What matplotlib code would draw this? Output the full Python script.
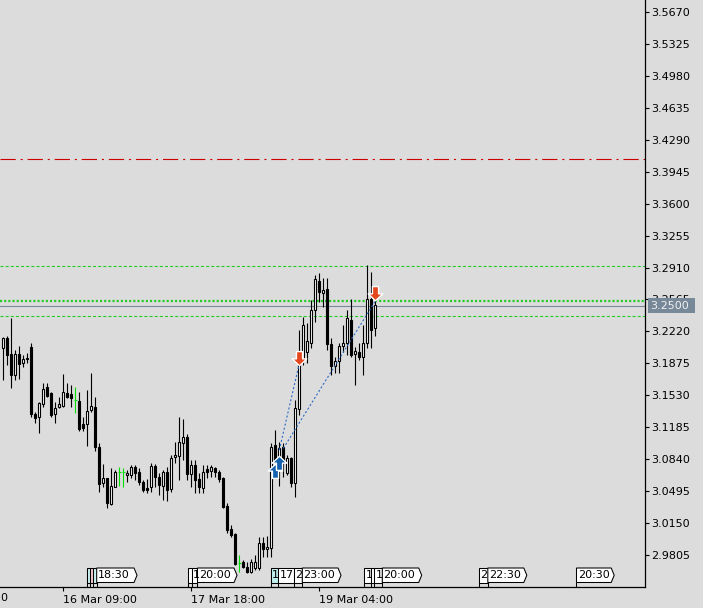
import matplotlib
matplotlib.use("Agg")
import matplotlib.pyplot as plt
import matplotlib.transforms as mtransforms
from matplotlib.path import Path
from matplotlib.patches import Polygon, Rectangle

plt.rcParams['font.family'] = ['DejaVu Sans']
plt.rcParams['lines.scale_dashes'] = False

# ---------------- data ----------------
opens = [3.2038, 3.2153, 3.1973, 3.1750, 3.1973, 3.1876, 3.1937, 3.2049, 3.1329, 3.1293,
         3.1437, 3.1624, 3.1559, 3.1329, 3.1401, 3.1419, 3.1552, 3.1541, 3.1480, 3.1469,
         3.1217, 3.1217, 3.1372, 3.1401, 3.0976, 3.0587, 3.0634, 3.0357, 3.0544, 3.0699,
         3.0699, 3.0670, 3.0670, 3.0760, 3.0706, 3.0591, 3.0526, 3.0537, 3.0767, 3.0652,
         3.0551, 3.0706, 3.0515, 3.0861, 3.0875, 3.1019, 3.1077, 3.0681, 3.0778, 3.0623,
         3.0526, 3.0735, 3.0710, 3.0742, 3.0706, 3.0634, 3.0335, 3.0083, 3.0033, 2.9716,
         2.9734, 2.9680, 2.9626, 2.9662, 2.9662, 2.9939, 2.9867, 2.9878, 3.0994, 3.0850,
         3.0976, 3.0695, 3.0850, 3.0580, 3.1379, 3.1912, 3.2002, 3.2099, 3.2452, 3.2769,
         3.2632, 3.2675, 3.2085, 3.1847, 3.1901, 3.2063, 3.2099, 3.2344, 3.1973, 3.2002,
         3.1948, 3.2092, 3.2567, 3.2254]
highs = [3.2164, 3.2171, 3.2362, 3.2020, 3.2063, 3.1966, 3.1984, 3.2099, 3.1354, 3.1462,
         3.1660, 3.1660, 3.1570, 3.1462, 3.1516, 3.1757, 3.1667, 3.1642, 3.1624, 3.1570,
         3.1300, 3.1588, 3.1768, 3.1516, 3.1012, 3.0789, 3.0634, 3.0742, 3.0724, 3.0753,
         3.0742, 3.0724, 3.0778, 3.0778, 3.0742, 3.0616, 3.0623, 3.0796, 3.0789, 3.0688,
         3.0724, 3.0753, 3.0886, 3.1030, 3.1293, 3.1271, 3.1113, 3.0832, 3.0832, 3.0688,
         3.0778, 3.0778, 3.0778, 3.0760, 3.0724, 3.0652, 3.0364, 3.0130, 3.0040, 2.9806,
         2.9752, 2.9734, 2.9759, 2.9806, 3.0004, 3.0004, 3.0011, 3.1012, 3.1156, 3.1030,
         3.1012, 3.0886, 3.0868, 3.1480, 3.2236, 3.2380, 3.2308, 3.2560, 3.2830, 3.2848,
         3.2794, 3.2794, 3.2146, 3.1948, 3.2092, 3.2290, 3.2452, 3.2567, 3.2056, 3.2092,
         3.2290, 3.2938, 3.2866, 3.2560]
lows = [3.1696, 3.1858, 3.1613, 3.1696, 3.1703, 3.1840, 3.1876, 3.1300, 3.1228, 3.1120,
        3.1408, 3.1516, 3.1300, 3.1228, 3.1390, 3.1408, 3.1498, 3.1408, 3.1343, 3.1149,
        3.1149, 3.0983, 3.1354, 3.0933, 3.0490, 3.0544, 3.0310, 3.0346, 3.0544, 3.0551,
        3.0537, 3.0598, 3.0634, 3.0616, 3.0562, 3.0490, 3.0472, 3.0490, 3.0544, 3.0454,
        3.0400, 3.0393, 3.0490, 3.0796, 3.0616, 3.0832, 3.0616, 3.0537, 3.0472, 3.0472,
        3.0472, 3.0634, 3.0652, 3.0652, 3.0598, 3.0310, 3.0040, 3.0004, 2.9698, 2.9626,
        2.9662, 2.9608, 2.9608, 2.9644, 2.9644, 2.9788, 2.9788, 2.9788, 3.0652, 3.0551,
        3.0652, 3.0670, 3.0544, 3.0436, 3.1318, 3.1858, 3.1876, 3.2038, 3.2326, 3.2542,
        3.2488, 3.2020, 3.1750, 3.1768, 3.1768, 3.2002, 3.1966, 3.1948, 3.1642, 3.1912,
        3.1750, 3.2038, 3.2038, 3.2171]
closes = [3.2146, 3.1966, 3.1750, 3.1973, 3.1869, 3.1923, 3.1923, 3.1329, 3.1282, 3.1444,
          3.1595, 3.1523, 3.1318, 3.1390, 3.1437, 3.1563, 3.1509, 3.1498, 3.1480, 3.1163,
          3.1174, 3.1361, 3.1419, 3.0976, 3.0573, 3.0634, 3.0364, 3.0551, 3.0699, 3.0699,
          3.0699, 3.0688, 3.0760, 3.0695, 3.0598, 3.0508, 3.0508, 3.0767, 3.0652, 3.0562,
          3.0706, 3.0508, 3.0850, 3.0886, 3.1030, 3.1077, 3.0681, 3.0778, 3.0616, 3.0537,
          3.0706, 3.0699, 3.0753, 3.0706, 3.0623, 3.0328, 3.0076, 3.0022, 2.9709, 2.9716,
          2.9680, 2.9626, 2.9734, 2.9734, 2.9939, 2.9867, 2.9896, 3.0969, 3.0832, 3.0958,
          3.0814, 3.0850, 3.0587, 3.1390, 3.1894, 3.2290, 3.2117, 3.2452, 3.2783, 3.2650,
          3.2668, 3.2081, 3.1847, 3.1901, 3.2063, 3.2099, 3.2362, 3.1966, 3.2009, 3.1948,
          3.2092, 3.2567, 3.2236, 3.2506]

# price levels
level_dashdot = 3.4083
level_green_upper = 3.2927
level_green_bold = 3.2554
level_bid = 3.2500
level_green_lower = 3.2390

# trades: (bar, price)
buy_arrows = [(68, 3.0716), (69, 3.0796)]
sell_arrows = [(74, 3.1936), (93, 3.2632)]
trade_lines = [((69, 3.0939), (74, 3.1876)), ((70, 3.0957), (93, 3.2549))]

# axis ticks
ytick_values = [2.9805, 3.0150, 3.0495, 3.0840, 3.1185, 3.1530, 3.1875, 3.2220, 3.2565,
                3.2910, 3.3255, 3.3600, 3.3945, 3.4290, 3.4635, 3.4980, 3.5325, 3.5670]
xtick_bars = [15, 47, 79]
xtick_labels = ['16 Mar 09:00', '17 Mar 18:00', '19 Mar 04:00']

# calendar events: (start bar, end bar, label, fill, arrow-shaped)
events = [
    (20.84, 21.67, '', '#c8eef0', False),
    (21.67, 22.49, '', '#f2c8cc', False),
    (22.49, 23.34, '', '#c8eef0', False),
    (23.34, 33.42, '18:30', 'white', True),
    (46.24, 47.09, '', 'white', False),
    (47.09, 48.54, '1', 'white', False),
    (48.54, 58.42, '20:00', 'white', True),
    (66.92, 68.74, '1', '#bff0f0', False),
    (68.74, 72.74, '17', 'white', False),
    (72.74, 74.74, '2', 'white', False),
    (74.74, 84.42, '23:00', 'white', True),
    (90.24, 91.92, '1', 'white', False),
    (91.92, 92.74, '', 'white', False),
    (92.74, 94.74, '1', 'white', False),
    (94.74, 104.59, '20:00', 'white', True),
    (118.87, 121.12, '2', 'white', False),
    (121.12, 130.87, '22:30', 'white', True),
    (143.29, 152.72, '20:30', 'white', True),
]

# ---------------- figure ----------------
BG = '#dcdcdc'
W, H = 703, 608
fig = plt.figure(figsize=(W / 100, H / 100), dpi=100, facecolor=BG)
ax = fig.add_axes([0, (H - 587) / H, 645 / W, 587 / H], facecolor=BG)

n = len(opens)
xs = list(range(n))
FS = 8

# candles
for i in xs:
    o, h, l, c = opens[i], highs[i], lows[i], closes[i]
    if abs(o - c) < 1e-9:
        ax.vlines(i, l, h, color='#00dd00', lw=0.8, zorder=3)
        ax.hlines(o, i - 0.45, i + 0.45, color='#00dd00', lw=0.8, zorder=3)
        continue
    ax.vlines(i, l, h, color='black', lw=0.8, zorder=2)
    bull = c > o
    ax.bar(i, abs(c - o), bottom=min(o, c), width=0.55,
           color='white' if bull else 'black', edgecolor='black',
           linewidth=0.8, zorder=3)

# horizontal levels
ax.axhline(level_dashdot, color='#cc0000', lw=0.8, ls=(0, (11, 3.5, 1.5, 3.5)), zorder=1)
ax.axhline(level_green_upper, color='#22cc22', lw=0.8, ls=(0, (2.2, 1.5)), zorder=1)
ax.axhline(level_green_bold, color='#22cc22', lw=1.6, ls=(0, (1.5, 1.5)), zorder=1)
ax.axhline(level_bid, color='#7a8898', lw=0.8, zorder=1)
ax.axhline(level_green_lower, color='#22cc22', lw=0.8, ls=(0, (2.2, 1.5)), zorder=1)

# trade lines
for (x0, y0), (x1, y1) in trade_lines:
    ax.plot([x0, x1], [y0, y1], color='#2a6ac4', lw=0.8, ls=(0, (1.5, 1.5)), zorder=4)

# arrow markers
up_verts = [(0, 1), (1, 0.05), (0.42, 0.05), (0.42, -0.95), (-0.42, -0.95),
            (-0.42, 0.05), (-1, 0.05), (0, 1)]
codes = [Path.MOVETO] + [Path.LINETO] * 6 + [Path.CLOSEPOLY]
up_arrow = Path(up_verts, codes)
down_arrow = Path([(x, -y) for x, y in up_verts], codes)
for bx, py in buy_arrows:
    ax.plot([bx], [py], marker=up_arrow, ms=10.5, mfc='#1462b0', mec='white',
            mew=1.0, ls='none', zorder=6)
for bx, py in sell_arrows:
    ax.plot([bx], [py], marker=down_arrow, ms=10.5, mfc='#e4461e', mec='white',
            mew=1.0, ls='none', zorder=6)

# limits
px_per_bar = 4.0
x_left = -3.33 / px_per_bar
x_right = x_left + 645 / px_per_bar
ax.set_xlim(x_left, x_right)
ax.set_ylim(3.5800 - 587 / 925.8, 3.5800)

# spines / ticks
for s in ['left', 'top']:
    ax.spines[s].set_visible(False)
for s in ['right', 'bottom']:
    ax.spines[s].set_color('black')
    ax.spines[s].set_linewidth(0.9)

ax.yaxis.tick_right()
ax.set_yticks(ytick_values)
ax.set_yticklabels([f'{v:.4f}' for v in ytick_values])
ax.tick_params(axis='y', direction='out', length=3.2, width=0.8, pad=1.2,
               labelsize=FS, colors='black')
ax.set_xticks(xtick_bars)
ax.set_xticklabels(xtick_labels)
ax.tick_params(axis='x', direction='out', length=3.0, width=0.8, pad=2.5,
               labelsize=FS, colors='black')
for lbl in ax.get_xticklabels():
    lbl.set_ha('left')

ax.text(0.0, -0.019, '0', transform=ax.transAxes, ha='left', va='center',
        fontsize=FS, color='black', clip_on=False)

# bid label box
bt = mtransforms.blended_transform_factory(fig.transFigure, ax.transData)
ppu = 925.8
ax.add_patch(Rectangle((648 / W, level_bid - 7.2 / ppu), 47 / W, 14.4 / ppu,
                       transform=bt, facecolor='#778899', edgecolor='none',
                       clip_on=False, zorder=10))
ax.text(650.5 / W, level_bid, f'{level_bid:.4f}', transform=bt, ha='left',
        va='center', fontsize=FS, color='#f0f0f0', zorder=11, clip_on=False)

# calendar events
et = mtransforms.blended_transform_factory(ax.transData, ax.transAxes)
yt = (587 - 568) / 587
yb = (587 - 582.5) / 587
ym = (yt + yb) / 2
tip = 3 / px_per_bar
for s, e, label, fill, arrow in events:
    if arrow:
        verts = [(s, yb), (s, yt), (e - tip, yt), (e, ym), (e - tip, yb)]
    else:
        verts = [(s, yb), (s, yt), (e, yt), (e, yb)]
    ax.add_patch(Polygon(verts, closed=True, transform=et, facecolor=fill,
                         edgecolor='black', lw=0.75, zorder=1.5, clip_on=False))
    ax.plot([s, s], [0, yb], transform=et, color='black', lw=0.75, zorder=1.5)
    if label:
        ax.text(s + 1.2 / px_per_bar, ym, label, transform=et, ha='left',
                va='center', fontsize=FS, color='black', zorder=1.6)

fig.savefig('out.png', dpi=100, facecolor=BG)
